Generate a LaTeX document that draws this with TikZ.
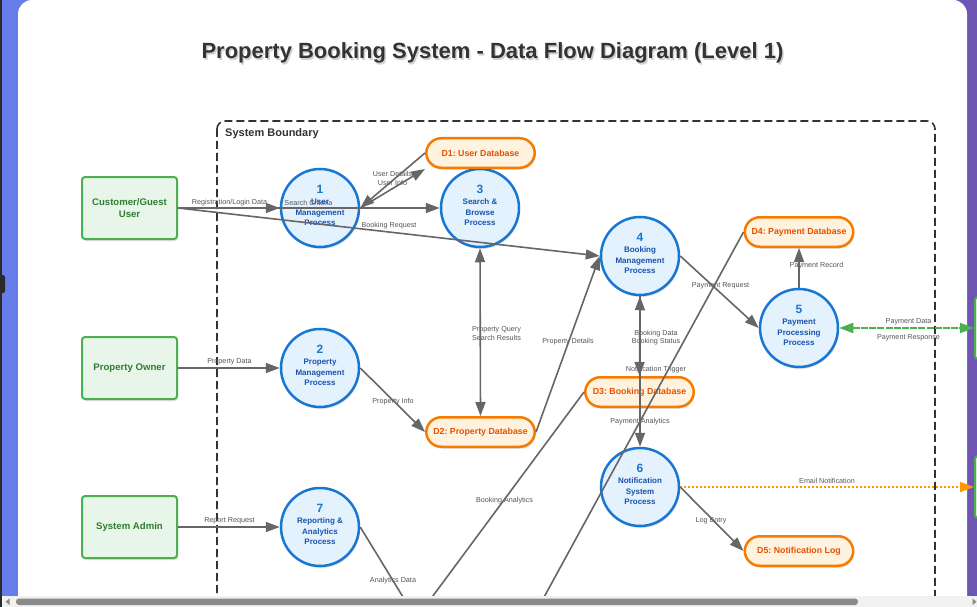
\documentclass[tikz,border=0pt]{standalone}
\usepackage{fontspec}
\setmainfont{Liberation Sans}
\usetikzlibrary{arrows.meta,shadows,calc}
\frenchspacing
\definecolor{bgl}{HTML}{667EEA}
\definecolor{bgr}{HTML}{6E55B2}
\definecolor{procf}{HTML}{E3F2FD}
\definecolor{procb}{HTML}{1976D2}
\definecolor{pnumc}{HTML}{1976D2}
\definecolor{ptxtc}{HTML}{1A52AE}
\definecolor{storef}{HTML}{FFF3E0}
\definecolor{storeb}{HTML}{F57C00}
\definecolor{storet}{HTML}{E65100}
\definecolor{entf}{HTML}{E8F5E9}
\definecolor{entb}{HTML}{4CAF50}
\definecolor{entt}{HTML}{2E7D32}
\definecolor{lblc}{HTML}{555555}
\definecolor{flowc}{HTML}{666666}
\definecolor{greenflow}{HTML}{4CAF50}
\definecolor{orangeflow}{HTML}{FF9800}
\definecolor{titlec}{HTML}{333333}
\definecolor{scrollbg}{HTML}{F1F1F1}
\definecolor{thumbc}{HTML}{8A8A8A}
\definecolor{edgec}{HTML}{2B2B2B}
\tikzset{
  shad/.style={drop shadow={shadow xshift=1pt,shadow yshift=-2pt,opacity=0.12,fill=black}},
  proc/.style={circle,draw=procb,fill=procf,line width=2.5pt,minimum size=78pt,inner sep=0pt,shad},
  pnum/.style={font=\fontsize{12}{12}\selectfont\bfseries,text=pnumc,inner sep=0pt},
  ptxt/.style={font=\fontsize{8}{8}\selectfont\bfseries,text=ptxtc,inner sep=0pt},
  store/.style={rectangle,rounded corners=15pt,draw=storeb,fill=storef,line width=2.5pt,
    minimum width=108.5pt,minimum height=29.5pt,inner sep=0pt,
    font=\fontsize{8.8}{8.8}\selectfont\bfseries,text=storet,shad},
  ent/.style={rectangle,rounded corners=3pt,draw=entb,fill=entf,line width=2pt,
    minimum width=95pt,minimum height=62pt,inner sep=0pt,align=center,
    font=\fontsize{9.6}{12}\selectfont\bfseries,text=entt,shad},
  lbl/.style={font=\fontsize{7.2}{7.2}\selectfont,text=lblc,inner sep=0pt},
  flow/.style={draw=flowc,line width=1.6pt,-{Triangle[length=14pt,width=10pt]}},
  bflow/.style={draw=flowc,line width=1.6pt,{Triangle[length=14pt,width=10pt]}-{Triangle[length=14pt,width=10pt]}},
  plainflow/.style={draw=flowc,line width=1.6pt},
  gflow/.style={draw=greenflow,line width=2pt,dash pattern=on 7pt off 1.2pt,
    {Triangle[length=14pt,width=10pt]}-{Triangle[length=14pt,width=10pt]}},
  oflow/.style={draw=orangeflow,line width=1.5pt,dash pattern=on 2pt off 2pt,
    -{Triangle[length=14pt,width=10pt]}},
}
\newcommand\procnode[7]{%
  \node[proc] (#1) at (#2,#3) {};
  \node[pnum,anchor=base] (#1n) at (#2,#3-15) {#4};
  \node[ptxt,anchor=base] (#1a) at (#2,#3-3.5) {#5};
  \node[ptxt,anchor=base] (#1b) at (#2,#3+7) {#6};
  \node[ptxt,anchor=base] (#1c) at (#2,#3+17.5) {#7};}
\begin{document}
\begin{tikzpicture}[x=1pt,y=-1pt]
\useasboundingbox (0,0) rectangle (977,607);
% page background
\shade[left color=bgl,right color=bgr] (0,0) rectangle (977,607);
\fill[edgec] (0,0) rectangle (2,607);
\fill[edgec,rounded corners=1.5pt] (0,275) rectangle (5,293);
\fill[white,rounded corners=14pt] (18,0) rectangle (967,660);
% title
\node[font=\fontsize{22}{22}\selectfont\bfseries,text=black,opacity=0.18,anchor=base] (titleshadow) at (494,60.5) {Property Booking System - Data Flow Diagram (Level 1)};
\node[font=\fontsize{22}{22}\selectfont\bfseries,text=titlec,anchor=base] (title) at (492.5,59) {Property Booking System - Data Flow Diagram (Level 1)};
% system boundary
\draw[titlec,line width=1.6pt,dash pattern=on 8pt off 4pt,rounded corners=8pt] (217,121) rectangle (935,680);
\node[font=\fontsize{11}{11}\selectfont\bfseries,text=titlec,anchor=base west,inner sep=0pt] (sb) at (225,137) {System Boundary};
% external entities
\node[ent] (cust) at (129.5,208) {Customer/Guest\\User};
\node[ent] (owner) at (129.5,368) {Property Owner};
\node[ent] (admin) at (129.5,527) {System Admin};
\node[ent,anchor=west] (gw) at (974,328) {};
\node[ent,anchor=west] (email) at (974,487) {};
% processes
\procnode{p1}{320}{208}{1}{User}{Management}{Process}
\procnode{p2}{320}{368}{2}{Property}{Management}{Process}
\procnode{p3}{480}{208}{3}{Search \&}{Browse}{Process}
\procnode{p4}{640}{256}{4}{Booking}{Management}{Process}
\procnode{p5}{799}{328}{5}{Payment}{Processing}{Process}
\procnode{p6}{640}{487}{6}{Notification}{System}{Process}
\procnode{p7}{320}{527}{7}{Reporting \&}{Analytics}{Process}
% data stores
\node[store] (d1) at (480.5,153) {D1: User Database};
\node[store] (d2) at (480.5,432) {D2: Property Database};
\node[store] (d3) at (639.5,392) {D3: Booking Database};
\node[store] (d4) at (799,232) {D4: Payment Database};
\node[store] (d5) at (799,551) {D5: Notification Log};
% off-screen targets
\coordinate (an1) at (537,610);
\coordinate (an2) at (424,608);
\coordinate (an3) at (425,633);
% labels
\node[lbl] (l1) at (229.5,202.5) {Registration/Login Data};
\node[lbl] (l2) at (308.5,202.5) {Search Criteria};
\node[lbl] (l3) at (389,225.5) {Booking Request};
\node[lbl] (l4) at (392.5,174.3) {User Details};
\node[lbl] (l5) at (392.5,182.5) {User Info};
\node[lbl] (l6) at (229.5,361.5) {Property Data};
\node[lbl] (l7) at (393,401.3) {Property Info};
\node[lbl] (l8) at (496.5,329.3) {Property Query};
\node[lbl] (l9) at (496.5,337.5) {Search Results};
\node[lbl] (l10) at (568,341.7) {Property Details};
\node[lbl] (l11) at (656,333.3) {Booking Data};
\node[lbl] (l12) at (656,341.7) {Booking Status};
\node[lbl] (l13) at (656,369.3) {Notification Trigger};
\node[lbl] (l14) at (640,421.3) {Payment Analytics};
\node[lbl] (l15) at (720.5,285.7) {Payment Request};
\node[lbl] (l16) at (816.5,265.7) {Payment Record};
\node[lbl] (l17) at (908.5,321.7) {Payment Data};
\node[lbl] (l18) at (908.5,337.7) {Payment Response};
\node[lbl] (l19) at (827,480.8) {Email Notification};
\node[lbl] (l20) at (711,520.7) {Log Entry};
\node[lbl] (l21) at (229.5,520.7) {Report Request};
\node[lbl] (l22) at (504.5,500.7) {Booking Analytics};
\node[lbl] (l23) at (393,580.3) {Analytics Data};
% flows
\draw[flow] (cust.east) -- (p1.west);
\draw[flow] (cust.east) -- (p3.west);
\draw[flow] (cust.east) -- (p4.west);
\draw[flow] (d1.west) -- (p1.east);
\draw[flow] (p1.east) -- (d1.south west);
\draw[flow] (owner.east) -- (p2.west);
\draw[flow] (p2.east) -- (d2.west);
\draw[bflow] (p3.south) -- (d2.north);
\draw[flow] (d2.east) -- (p4.west);
\draw[bflow] (p4.south) -- (d3.north);
\draw[flow] (p4.south) -- (p6.north);
\draw[flow] (p4.east) -- (p5.west);
\draw[flow] (p5.north) -- (d4.south);
\draw[gflow] (p5.east) -- (gw.west);
\draw[plainflow] (d4.west) -- (an1);
\draw[plainflow] (d3.west) -- (an2);
\draw[plainflow] (p7.east) -- (an3);
\draw[oflow] (p6.east) -- (email.west);
\draw[flow] (p6.east) -- (d5.west);
\draw[flow] (admin.east) -- (p7.west);
% scrollbar
\fill[scrollbg] (2,596) rectangle (977,607);
\fill[thumbc,rounded corners=3pt] (16,598.5) rectangle (858,605);
\fill[thumbc] (5.5,601.7) -- (9.5,598.5) -- (9.5,605) -- cycle;
\fill[thumbc] (976.5,601.7) -- (972.5,598.5) -- (972.5,605) -- cycle;
\end{tikzpicture}
\end{document}
